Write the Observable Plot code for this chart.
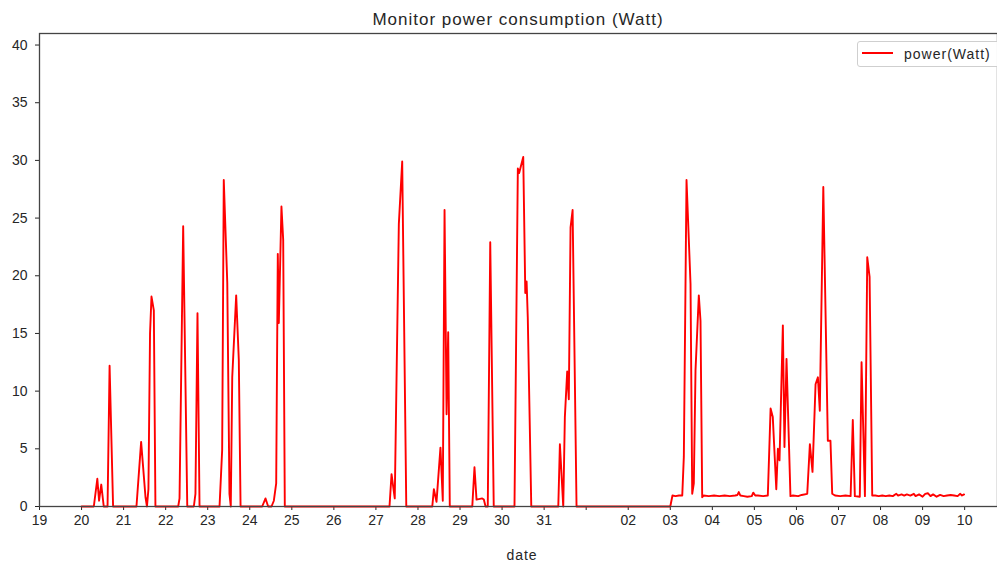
<!DOCTYPE html>
<html>
<head>
<meta charset="utf-8">
<script src="https://cdn.jsdelivr.net/npm/d3@7"></script>
<script src="https://cdn.jsdelivr.net/npm/@observablehq/plot@0.6"></script>
<style>
  html, body { margin: 0; padding: 0; background: #fff; }
  #wrap { position: relative; width: 997px; height: 564px; overflow: hidden; font-family: "Liberation Sans", Arial, sans-serif; color: #262626; }
  #wrap svg { display: block; }
  .ttl { position: absolute; left: 0; width: 1036px; text-align: center; top: 11px; font-size: 17px; line-height: 17px; letter-spacing: 1px; }
  .xl { position: absolute; left: 0; width: 1044px; text-align: center; top: 548px; font-size: 14px; line-height: 14px; letter-spacing: 1px; }
  .leg { position: absolute; left: 857px; top: 41px; width: 160px; height: 24px; border: 1px solid #cfcfcf; border-radius: 3px; background: rgba(255,255,255,0.85); }
  .legline { position: absolute; left: 862px; top: 51.6px; width: 31px; height: 2px; background: #ff0000; }
  .legtxt { position: absolute; left: 904px; top: 46.5px; font-size: 14px; line-height: 14px; letter-spacing: 1px; }
</style>
</head>
<body>
<div id="wrap"></div>
<script>
// ---- data ----
const titleText = "Monitor power consumption (Watt)";
const xLabel = "date";
const seriesName = "power(Watt)";
const year = "2019";

const times = [
  "07-20 00:00","07-20 07:00","07-20 09:00","07-20 10:00","07-20 11:15","07-20 12:40","07-20 14:50","07-20 16:00","07-20 18:00",
  "07-21 07:20","07-21 10:00","07-21 12:30","07-21 13:20","07-21 14:10","07-21 15:05","07-21 15:55","07-21 17:15","07-21 18:10",
  "07-22 07:10","07-22 07:55","07-22 10:00","07-22 12:20","07-22 16:05","07-22 17:00","07-22 18:10","07-22 19:20",
  "07-23 06:45","07-23 08:15","07-23 09:10","07-23 11:10","07-23 12:25","07-23 13:10","07-23 14:00","07-23 16:15","07-23 17:45","07-23 18:45",
  "07-24 07:05","07-24 09:00","07-24 10:30","07-24 12:25","07-24 13:45","07-24 15:05","07-24 16:00","07-24 16:35","07-24 18:05","07-24 19:05","07-24 20:00",
  "07-27 07:45","07-27 08:55","07-27 10:45","07-27 13:05","07-27 15:00","07-27 17:20",
  "07-28 08:10","07-28 09:05","07-28 10:35","07-28 12:50","07-28 14:10","07-28 15:10","07-28 16:20","07-28 17:15","07-28 18:10",
  "07-29 07:00","07-29 08:15","07-29 09:25","07-29 12:40","07-29 13:35","07-29 14:35","07-29 15:50","07-29 17:15","07-29 19:15",
  "07-30 07:05","07-30 09:00","07-30 09:45","07-30 12:05","07-30 13:15","07-30 14:00","07-30 14:40","07-30 16:40",
  "07-31 08:05","07-31 09:00","07-31 10:55","07-31 11:50","07-31 13:10","07-31 14:05","07-31 15:05","07-31 16:15","07-31 18:30",
  "08-03 00:00","08-03 01:15","08-03 03:00","08-03 05:00","08-03 06:50","08-03 07:44","08-03 09:16","08-03 11:33","08-03 12:31","08-03 13:26","08-03 14:24","08-03 16:17","08-03 17:15","08-03 18:13","08-03 19:00","08-03 22:00",
  "08-04 01:00","08-04 04:00","08-04 07:00","08-04 10:00","08-04 13:00","08-04 14:20","08-04 15:06","08-04 16:00","08-04 18:00","08-04 20:00","08-04 22:30","08-04 23:21",
  "08-05 00:30","08-05 02:00","08-05 05:00","08-05 07:40","08-05 09:15","08-05 10:30","08-05 12:30","08-05 13:25","08-05 14:20","08-05 16:15","08-05 17:10","08-05 18:20","08-05 20:35","08-05 22:00",
  "08-06 01:00","08-06 03:00","08-06 06:10","08-06 07:40","08-06 09:10","08-06 10:55","08-06 12:15","08-06 13:20","08-06 15:20","08-06 17:55","08-06 19:25","08-06 20:25","08-06 22:00",
  "08-07 01:00","08-07 04:00","08-07 06:55","08-07 08:10","08-07 09:20","08-07 12:10","08-07 13:10","08-07 15:05","08-07 16:25","08-07 17:45","08-07 19:15","08-07 21:00","08-07 23:00",
  "08-08 01:00","08-08 03:00","08-08 05:00","08-08 07:00","08-08 09:00","08-08 10:00","08-08 12:00","08-08 13:30","08-08 15:00","08-08 17:00","08-08 19:00","08-08 20:00","08-08 22:00",
  "08-09 00:00","08-09 01:30","08-09 03:00","08-09 04:30","08-09 06:00","08-09 08:00","08-09 10:00","08-09 12:00","08-09 14:00","08-09 16:00","08-09 18:00","08-09 20:00","08-09 21:30","08-09 22:30","08-09 23:40"
];
const watts = [
  0,0,2.4,0.5,1.9,0,0,12.2,0,
  0,5.6,0.8,0,1.5,15,18.2,17.0,0,
  0,0.7,24.3,0,0,1.1,16.75,0,
  0,4.9,28.3,19.4,1.1,0,11.2,18.3,12.7,0,
  0,0.7,0,0,0.5,2.0,21.9,15.9,26.0,23.1,0,
  0,2.8,0.7,24.5,29.9,0,
  0,1.5,0.4,5.1,0.5,25.7,8.0,15.1,0,
  0,3.4,0.6,0.7,0.6,0,0,22.9,0,
  0,29.3,28.9,30.3,18.5,19.5,16.4,0,
  0,5.4,0,7.75,11.7,9.3,24.2,25.7,0,
  0,0.95,0.9,0.95,0.95,4.3,28.3,19.3,1.1,2.0,11.8,18.3,16.1,0.8,0.95,0.9,
  0.95,0.9,0.95,0.9,0.95,1.0,1.25,0.95,0.9,0.85,0.9,1.2,
  0.95,0.95,0.9,0.95,8.5,7.75,1.5,5.0,4.0,15.7,5.15,12.8,0.9,0.95,
  0.9,1.0,1.1,5.4,3.0,10.6,11.2,8.3,27.7,5.7,5.7,1.1,0.95,
  0.9,0.95,0.9,7.5,0.9,0.85,12.5,0.9,21.6,19.9,0.95,0.95,0.9,
  0.95,0.9,0.95,0.9,1.1,0.95,1.05,0.95,1.05,0.95,1.1,0.9,1.05,
  0.85,1.1,1.15,0.9,1.05,0.85,1.0,0.9,0.95,1.0,0.95,0.9,1.1,0.95,1.05
];
const tickDays = ["07-19","07-20","07-21","07-22","07-23","07-24","07-25","07-26","07-27","07-28","07-29","07-30","07-31",
                  "08-01","08-02","08-03","08-04","08-05","08-06","08-07","08-08","08-09","08-10"];
const yTicks = [0,5,10,15,20,25,30,35,40];
const xStart = "07-19 00:00";
const xEnd = "08-10 18:45";
const yMax = 41;

// ---- build ----
const parse = d3.utcParse("%Y-%m-%d %H:%M");
const P = s => parse(year + "-" + s);
const data = times.map((t, i) => ({date: P(t), watt: watts[i]}));
const xTicks = tickDays.map(d => P(d + " 00:00"));
const fmtDay = d3.utcFormat("%d");

const chart = Plot.plot({
  width: 997,
  height: 564,
  marginTop: 33,
  marginBottom: 58,
  marginLeft: 39,
  marginRight: 0,
  style: {fontFamily: "'Liberation Sans', Arial, sans-serif", fontSize: "14px", color: "#262626", background: "transparent"},
  x: {type: "utc", domain: [P(xStart), P(xEnd)], ticks: xTicks,
      tickFormat: d => d.getUTCDate() === 1 ? "" : fmtDay(d), tickSize: 4, tickPadding: 5, label: null},
  y: {domain: [0, yMax], ticks: yTicks, tickSize: 4, tickPadding: 8, label: null},
  marks: [
    Plot.lineY(data, {x: "date", y: "watt", stroke: "#ff0000", strokeWidth: 1.9}),
    Plot.frame({stroke: "#444444", strokeWidth: 1.3})
  ]
});

const wrap = document.getElementById("wrap");
wrap.appendChild(chart);
const add = (cls, text) => { const d = document.createElement("div"); d.className = cls; if (text) d.textContent = text; wrap.appendChild(d); };
add("ttl", titleText);
add("xl", xLabel);
add("leg");
add("legline");
add("legtxt", seriesName);
</script>
</body>
</html>
